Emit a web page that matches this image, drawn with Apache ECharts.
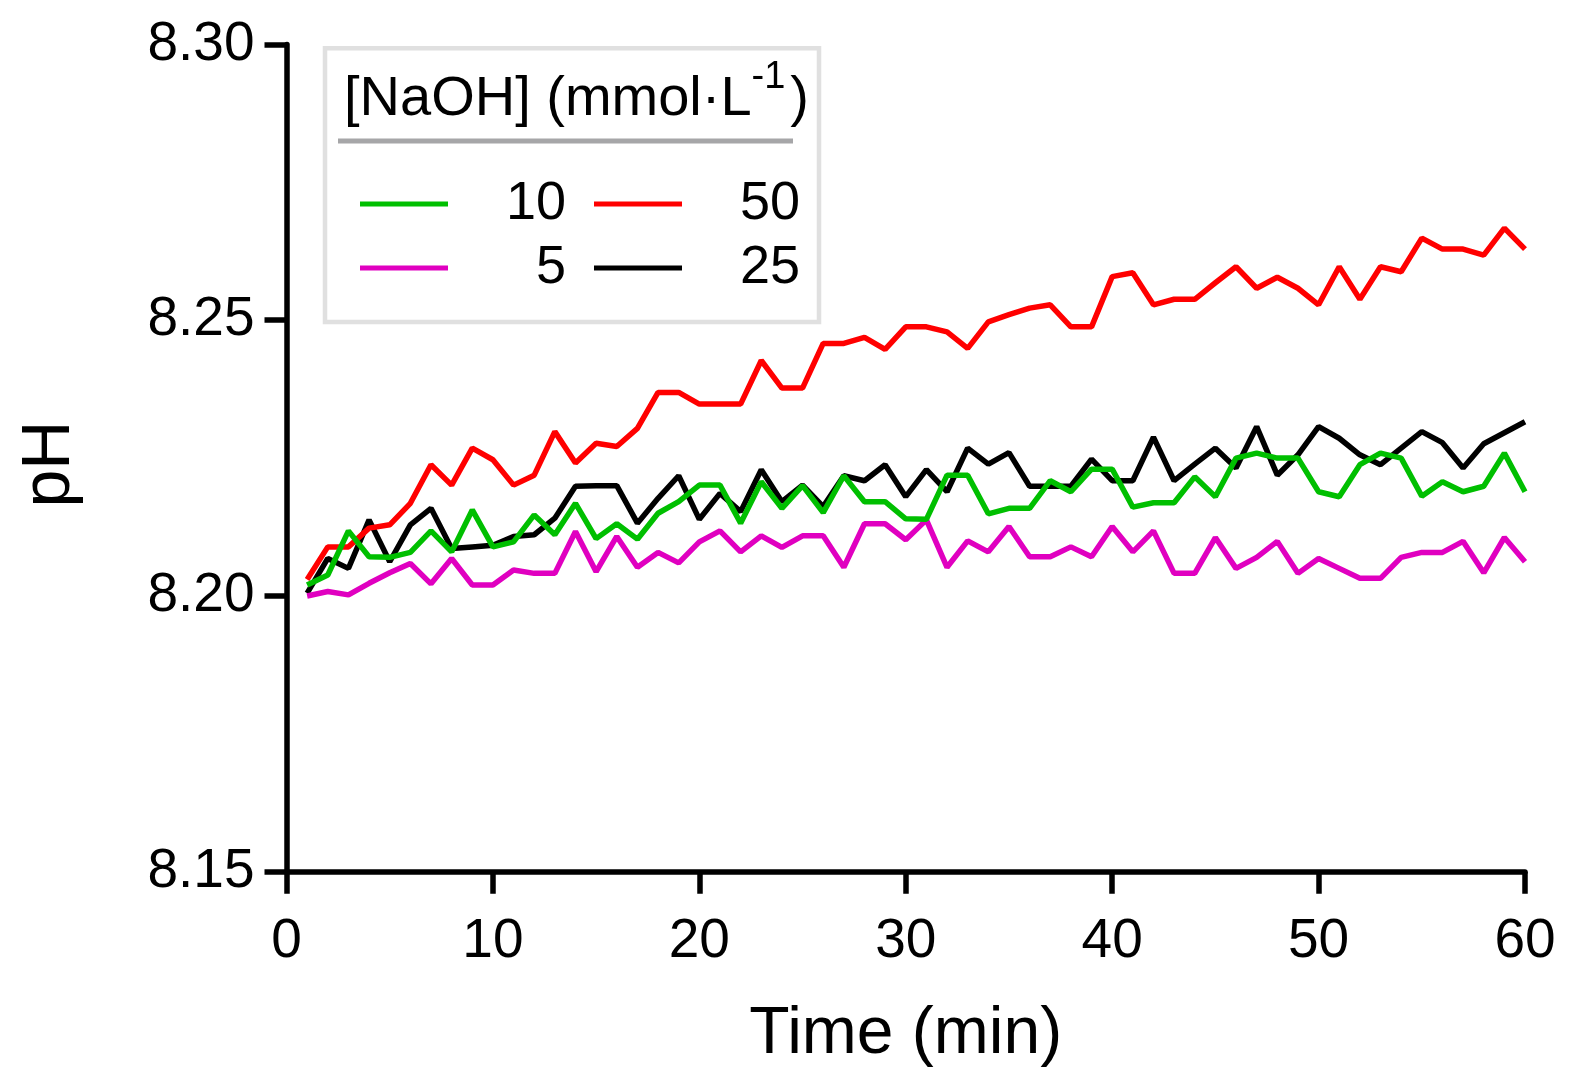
<!DOCTYPE html>
<html>
<head>
<meta charset="utf-8">
<title>pH vs time</title>
<script src="https://cdn.jsdelivr.net/npm/echarts@6/dist/echarts.min.js"></script>
<style>
  html, body { margin: 0; padding: 0; background: #fff; }
  #chart { width: 1580px; height: 1080px; }
</style>
</head>
<body>
<div id="chart"></div>
<script>
// 读取自原图的数据 (pH, 每分钟一个点)
var minutes = [1,2,3,4,5,6,7,8,9,10,11,12,13,14,15,16,17,18,19,20,
               21,22,23,24,25,26,27,28,29,30,31,32,33,34,35,36,37,38,39,40,
               41,42,43,44,45,46,47,48,49,50,51,52,53,54,55,56,57,58,59,60];

var ph10 = [8.2020,8.2038,8.2118,8.2071,8.2070,8.2079,8.2118,8.2080,8.2156,8.2089,
            8.2098,8.2147,8.2111,8.2168,8.2104,8.2131,8.2103,8.2150,8.2171,8.2201,
            8.2201,8.2132,8.2207,8.2159,8.2200,8.2151,8.2218,8.2171,8.2171,8.2140,
            8.2139,8.2219,8.2219,8.2149,8.2159,8.2159,8.2209,8.2189,8.2230,8.2230,
            8.2161,8.2169,8.2169,8.2216,8.2180,8.2250,8.2259,8.2250,8.2250,8.2189,
            8.2180,8.2238,8.2259,8.2250,8.2181,8.2207,8.2189,8.2199,8.2259,8.2189];

var ph50 = [8.2030,8.2089,8.2089,8.2123,8.2129,8.2168,8.2238,8.2201,8.2268,8.2247,
            8.2201,8.2219,8.2298,8.2241,8.2277,8.2271,8.2304,8.2369,8.2369,8.2348,
            8.2348,8.2348,8.2427,8.2377,8.2377,8.2458,8.2458,8.2469,8.2447,8.2488,
            8.2488,8.2479,8.2449,8.2497,8.2510,8.2522,8.2528,8.2488,8.2488,8.2579,
            8.2586,8.2528,8.2538,8.2538,8.2568,8.2597,8.2558,8.2578,8.2558,8.2528,
            8.2597,8.2538,8.2597,8.2588,8.2649,8.2629,8.2629,8.2618,8.2667,8.2629];

var ph5 = [8.2000,8.2008,8.2002,8.2023,8.2042,8.2059,8.2022,8.2068,8.2020,8.2020,
           8.2047,8.2041,8.2041,8.2117,8.2044,8.2108,8.2052,8.2079,8.2060,8.2098,
           8.2118,8.2080,8.2109,8.2088,8.2109,8.2109,8.2052,8.2131,8.2131,8.2102,
           8.2138,8.2052,8.2100,8.2080,8.2126,8.2071,8.2071,8.2089,8.2071,8.2126,
           8.2080,8.2118,8.2041,8.2041,8.2106,8.2050,8.2070,8.2099,8.2041,8.2068,
           8.2050,8.2032,8.2032,8.2070,8.2079,8.2079,8.2099,8.2042,8.2106,8.2062];

var ph25 = [8.2005,8.2068,8.2050,8.2138,8.2062,8.2129,8.2159,8.2086,8.2089,8.2092,
            8.2108,8.2111,8.2141,8.2199,8.2200,8.2200,8.2132,8.2177,8.2218,8.2139,
            8.2186,8.2153,8.2229,8.2171,8.2201,8.2162,8.2218,8.2209,8.2238,8.2180,
            8.2229,8.2189,8.2268,8.2239,8.2260,8.2199,8.2199,8.2199,8.2248,8.2209,
            8.2209,8.2288,8.2209,8.2239,8.2268,8.2232,8.2307,8.2219,8.2256,8.2307,
            8.2286,8.2256,8.2238,8.2268,8.2298,8.2278,8.2232,8.2276,8.2296,8.2316];

var legendLeftCol = ['10', '5'];
var legendRightCol = ['50', '25'];
var xTicks = [0, 60, 10];          // min, max, interval
var yTicks = [8.15, 8.30, 0.05];   // min, max, interval

var FONT = '"Liberation Sans", Arial, sans-serif';

function pairs(vals) {
    var out = [];
    for (var i = 0; i < vals.length; i++) {
        out.push([minutes[i], vals[i]]);
    }
    return out;
}

function lineSeries(name, color, vals) {
    return {
        name: name,
        type: 'line',
        data: pairs(vals),
        showSymbol: false,
        symbol: 'none',
        color: color,
        lineStyle: { color: color, width: 5.5 },
        emphasis: { disabled: true },
        silent: true
    };
}

function legendCol(names, left) {
    return {
        data: names,
        orient: 'vertical',
        left: left,
        top: 177,
        padding: 0,
        itemGap: 10,
        itemWidth: 88,
        itemHeight: 5,
        icon: 'rect',
        selectedMode: false,
        formatter: '{n|{name}}',
        textStyle: {
            rich: {
                n: { width: 113, align: 'right', fontSize: 54, lineHeight: 31, fontFamily: FONT, color: '#000' }
            }
        }
    };
}

var myChart = echarts.init(document.getElementById('chart'), null, { renderer: 'canvas' });

var option = {
    animation: false,
    backgroundColor: '#fff',
    grid: {
        left: 286.5, right: 55, top: 44.5, bottom: 208.3,
        outerBoundsMode: 'none'
    },
    // 图例标题, 上标 -1
    title: {
        text: '{b|[NaOH] (mmol·L}{s|-1}{b|)}',
        left: 344,
        top: 58.8,
        padding: 0,
        textStyle: {
            fontWeight: 'normal',
            rich: {
                b: { fontSize: 56, fontWeight: 'normal', fontFamily: FONT, color: '#000', lineHeight: 82 },
                s: { fontSize: 38, fontWeight: 'normal', fontFamily: FONT, color: '#000', verticalAlign: 'top', padding: [0, 5, 0, 0] }
            }
        }
    },
    legend: [
        legendCol(legendLeftCol, 360),
        legendCol(legendRightCol, 594)
    ],
    graphic: [
        {
            type: 'rect',
            shape: { x: 325, y: 48.3, width: 494, height: 273.7 },
            style: { fill: null, stroke: '#e0e0e0', lineWidth: 4.5 },
            z: 0, silent: true
        },
        {
            type: 'line',
            shape: { x1: 338, y1: 141, x2: 793, y2: 141 },
            style: { stroke: '#a6a6a8', lineWidth: 5 },
            silent: true
        }
    ],
    xAxis: {
        type: 'value',
        min: xTicks[0], max: xTicks[1], interval: xTicks[2],
        name: 'Time (min)',
        nameLocation: 'middle',
        nameGap: 130,
        nameTextStyle: { fontSize: 66, fontFamily: FONT, color: '#000' },
        axisLine: { show: true, lineStyle: { color: '#000', width: 5.5 } },
        axisTick: { show: true, inside: false, length: 22, lineStyle: { color: '#000', width: 5.5 } },
        axisLabel: { margin: 43, fontSize: 55, fontFamily: FONT, color: '#000' },
        splitLine: { show: false }
    },
    yAxis: {
        type: 'value',
        min: yTicks[0], max: yTicks[1], interval: yTicks[2],
        name: 'pH',
        nameLocation: 'middle',
        nameRotate: 90,
        nameGap: 202,
        nameTextStyle: { fontSize: 68, fontFamily: FONT, color: '#000', padding: [0, 12, 0, 0] },
        axisLine: { show: true, lineStyle: { color: '#000', width: 5.5 } },
        axisTick: { show: true, inside: false, length: 22, lineStyle: { color: '#000', width: 5.5 } },
        axisLabel: {
            margin: 32, fontSize: 55, fontFamily: FONT, color: '#000',
            formatter: function (v) { return v.toFixed(2); }
        },
        splitLine: { show: false }
    },
    series: [
        lineSeries('25', '#000000', ph25),
        lineSeries('5', '#e000c0', ph5),
        lineSeries('50', '#ff0000', ph50),
        lineSeries('10', '#00bf00', ph10)
    ]
};

myChart.setOption(option);
</script>
</body>
</html>
